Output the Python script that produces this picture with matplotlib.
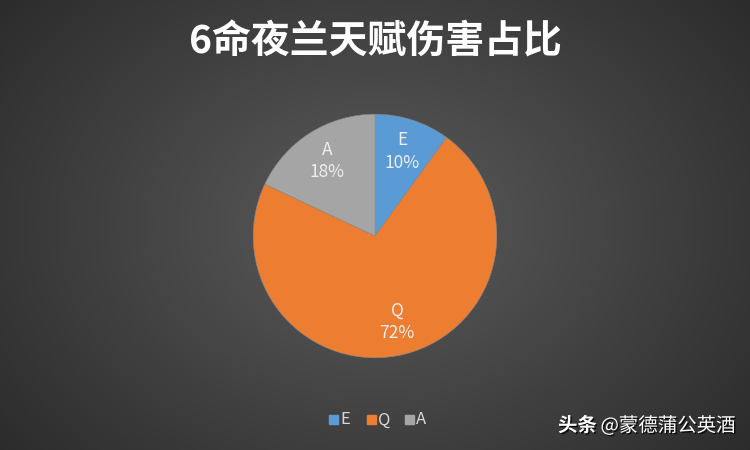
import numpy as np
import matplotlib
matplotlib.use('Agg')
import matplotlib.pyplot as plt
import matplotlib.patheffects as pe

plt.rcParams['font.family'] = ['Noto Sans CJK SC', 'DejaVu Sans']

title = '6命夜兰天赋伤害占比'
labels = ['E', 'Q', 'A']
shares = [10, 72, 18]
colors = ['#5B9BD5', '#ED7D31', '#A5A5A5']
wm_bold = '头条'
wm_rest = '@蒙德蒲公英酒'

fig = plt.figure(figsize=(7.5, 4.5), dpi=100)

# radial dark background
bg = fig.add_axes([0, 0, 1, 1])
yy, xx = np.mgrid[0:450, 0:750]
d = np.sqrt(((xx - 375) / 560) ** 2 + ((yy - 225) / 420) ** 2)
shade = 0.36 - 0.22 * np.clip(d, 0, 1)
bg.imshow(np.dstack([shade] * 3), extent=[0, 750, 450, 0], aspect='auto')
bg.set_xlim(0, 750)
bg.set_ylim(450, 0)
bg.axis('off')

bg.text(375, 42, title, color='white', fontsize=28, fontweight='bold',
        ha='center', va='center')

ax = fig.add_axes([252 / 750, 91 / 450, 246 / 750, 246 / 450])
wedges, texts = ax.pie(shares, colors=colors, startangle=90, counterclock=False,
                       radius=1, wedgeprops=dict(linewidth=0.4, edgecolor='#8a8a8a'))
for w, lab, s in zip(wedges, labels, shares):
    ang = np.deg2rad((w.theta1 + w.theta2) / 2)
    r = 0.73
    ax.text(r * np.cos(ang), r * np.sin(ang), f'{lab}\n{s}%', ha='center', va='center',
            color='#EEEEEE', fontsize=12.5, linespacing=1.3)
ax.set_xlim(-1.01, 1.01)
ax.set_ylim(-1.01, 1.01)
ax.axis('off')

# legend
lx = 329
for lab, c in zip(labels, colors):
    bg.add_patch(plt.Rectangle((lx, 415), 9, 9, color=c))
    bg.text(lx + 11, 420, lab, color='#D9D9D9', fontsize=12, ha='left', va='center')
    lx += 38

shadow = [pe.withSimplePatchShadow(offset=(1, -1), shadow_rgbFace='black', alpha=0.8)]
bg.text(558, 426, wm_bold, color='white', fontsize=14, fontweight='bold',
        ha='left', va='center', path_effects=shadow)
bg.text(736, 426, wm_rest, color='white', fontsize=14, ha='right', va='center',
        path_effects=shadow)

fig.savefig('out.png', dpi=100)
